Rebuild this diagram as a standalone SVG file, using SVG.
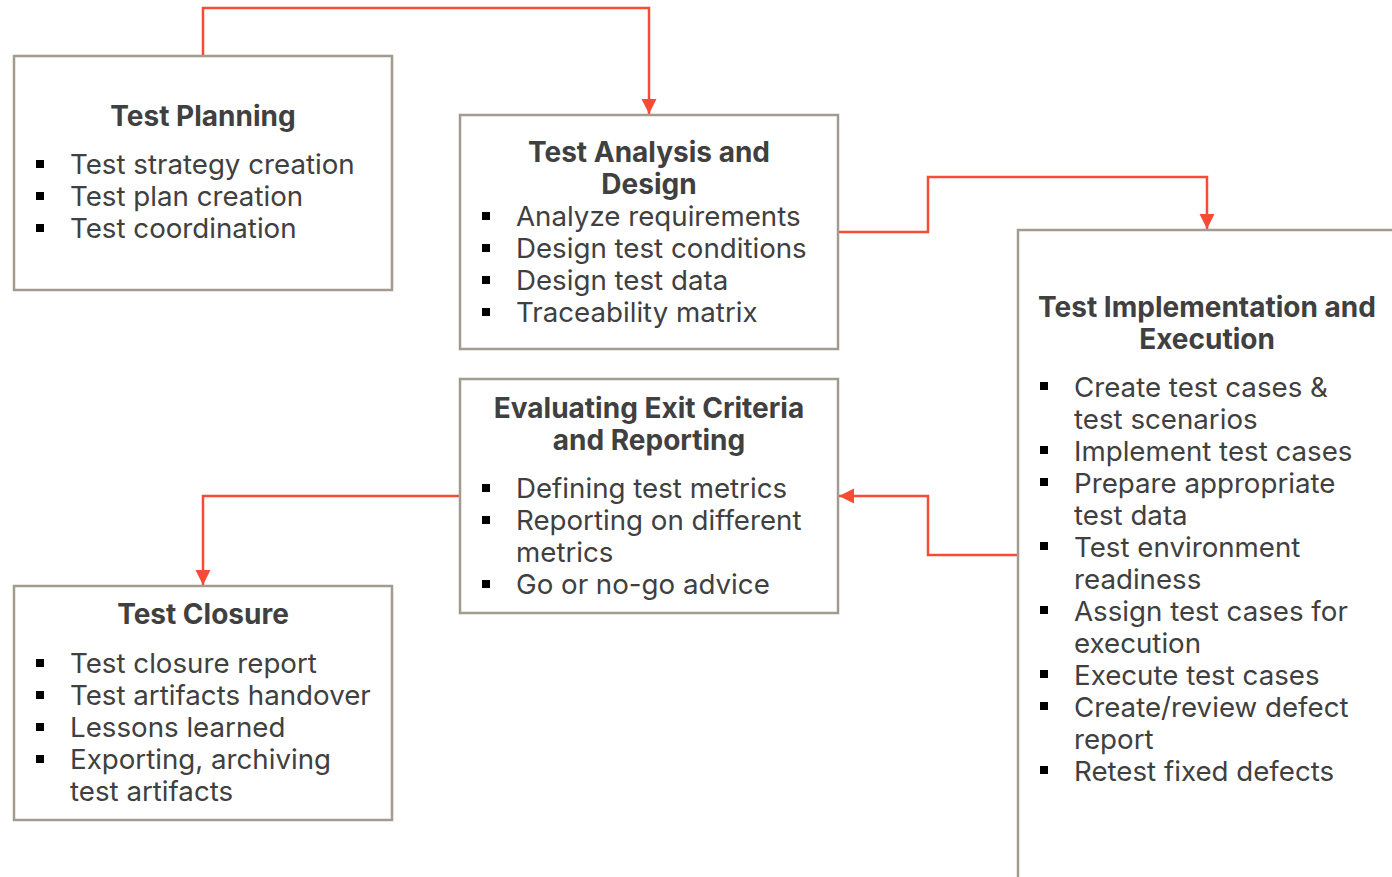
<svg xmlns="http://www.w3.org/2000/svg" width="1392" height="877" viewBox="0 0 1392 877">
<style>
.box{fill:#fff;stroke:#a39a90;stroke-width:2.5}
.t{font-family:Inter,"Liberation Sans",sans-serif;font-size:27.7px;fill:#404040}
.h{font-family:Inter,"Liberation Sans",sans-serif;font-size:28px;font-weight:bold;fill:#404040;text-anchor:middle}
.b{fill:#000}
.c{fill:none;stroke:#f64b35;stroke-width:2.5}
</style>
<defs>
<marker id="arr" viewBox="0 0 10 10" refX="10" refY="5" markerWidth="6" markerHeight="6.4" orient="auto" markerUnits="strokeWidth">
<path d="M0,0 L10,5 L0,10 z" fill="#f64b35"/>
</marker>
</defs>
<rect width="1392" height="877" fill="#fff"/>
<g id="connectors">
<path class="c" d="M203,56 V8 H649 V114" marker-end="url(#arr)"/>
<path class="c" d="M838,232 H928 V177 H1207 V229" marker-end="url(#arr)"/>
<path class="c" d="M1018,555 H928 V496 H839" marker-end="url(#arr)"/>
<path class="c" d="M460,496 H203 V585" marker-end="url(#arr)"/>
</g>
<g id="test-planning">
<rect class="box" x="14" y="56" width="378" height="234"/>
<text class="h" x="203" y="126">Test Planning</text>
<rect class="b" x="36" y="160" width="8" height="8"/>
<rect class="b" x="36" y="192" width="8" height="8"/>
<rect class="b" x="36" y="224" width="8" height="8"/>
<text class="t" x="70" y="174">Test strategy creation</text>
<text class="t" x="70" y="206">Test plan creation</text>
<text class="t" x="70" y="238">Test coordination</text>
</g>
<g id="test-analysis">
<rect class="box" x="460" y="115" width="378" height="234"/>
<text class="h" x="649" y="162">Test Analysis and</text>
<text class="h" x="649" y="194">Design</text>
<rect class="b" x="482" y="212" width="8" height="8"/>
<rect class="b" x="482" y="244" width="8" height="8"/>
<rect class="b" x="482" y="276" width="8" height="8"/>
<rect class="b" x="482" y="308" width="8" height="8"/>
<text class="t" x="516" y="226">Analyze requirements</text>
<text class="t" x="516" y="258">Design test conditions</text>
<text class="t" x="516" y="290">Design test data</text>
<text class="t" x="516" y="322">Traceability matrix</text>
</g>
<g id="test-implementation">
<rect class="box" x="1018" y="230" width="400" height="700"/>
<text class="h" x="1207" y="317">Test Implementation and</text>
<text class="h" x="1207" y="349">Execution</text>
<rect class="b" x="1040" y="382" width="8" height="8"/>
<rect class="b" x="1040" y="446" width="8" height="8"/>
<rect class="b" x="1040" y="478" width="8" height="8"/>
<rect class="b" x="1040" y="542" width="8" height="8"/>
<rect class="b" x="1040" y="606" width="8" height="8"/>
<rect class="b" x="1040" y="670" width="8" height="8"/>
<rect class="b" x="1040" y="702" width="8" height="8"/>
<rect class="b" x="1040" y="766" width="8" height="8"/>
<text class="t" x="1074" y="397">Create test cases &amp;</text>
<text class="t" x="1074" y="429">test scenarios</text>
<text class="t" x="1074" y="461">Implement test cases</text>
<text class="t" x="1074" y="493">Prepare appropriate</text>
<text class="t" x="1074" y="525">test data</text>
<text class="t" x="1074" y="557">Test environment</text>
<text class="t" x="1074" y="589">readiness</text>
<text class="t" x="1074" y="621">Assign test cases for</text>
<text class="t" x="1074" y="653">execution</text>
<text class="t" x="1074" y="685">Execute test cases</text>
<text class="t" x="1074" y="717">Create/review defect</text>
<text class="t" x="1074" y="749">report</text>
<text class="t" x="1074" y="781">Retest fixed defects</text>
</g>
<g id="evaluating-exit">
<rect class="box" x="460" y="379" width="378" height="234"/>
<text class="h" x="649" y="418">Evaluating Exit Criteria</text>
<text class="h" x="649" y="450">and Reporting</text>
<rect class="b" x="482" y="484" width="8" height="8"/>
<rect class="b" x="482" y="516" width="8" height="8"/>
<rect class="b" x="482" y="580" width="8" height="8"/>
<text class="t" x="516" y="498">Defining test metrics</text>
<text class="t" x="516" y="530">Reporting on different</text>
<text class="t" x="516" y="562">metrics</text>
<text class="t" x="516" y="594">Go or no-go advice</text>
</g>
<g id="test-closure">
<rect class="box" x="14" y="586" width="378" height="234"/>
<text class="h" x="203" y="624">Test Closure</text>
<rect class="b" x="36" y="659" width="8" height="8"/>
<rect class="b" x="36" y="691" width="8" height="8"/>
<rect class="b" x="36" y="723" width="8" height="8"/>
<rect class="b" x="36" y="755" width="8" height="8"/>
<text class="t" x="70" y="673">Test closure report</text>
<text class="t" x="70" y="705">Test artifacts handover</text>
<text class="t" x="70" y="737">Lessons learned</text>
<text class="t" x="70" y="769">Exporting, archiving</text>
<text class="t" x="70" y="801">test artifacts</text>
</g>
</svg>
